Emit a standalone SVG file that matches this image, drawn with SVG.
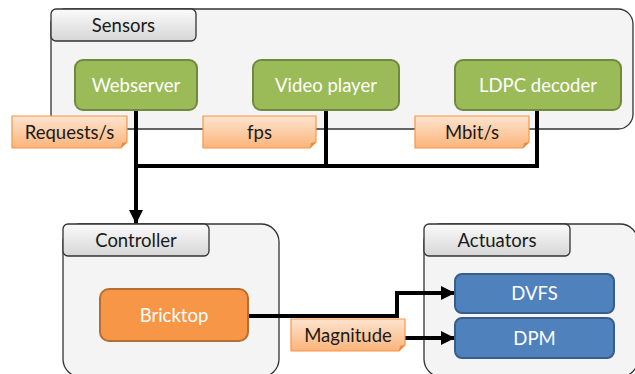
<svg xmlns="http://www.w3.org/2000/svg" width="635" height="374" viewBox="0 0 635 374">
  <defs>
    <linearGradient id="tabGrad" x1="0" y1="0" x2="0" y2="1">
      <stop offset="0" stop-color="#fbfbfb"/>
      <stop offset="1" stop-color="#d6d6d6"/>
    </linearGradient>
    <linearGradient id="lblGrad" x1="0" y1="0" x2="0" y2="1">
      <stop offset="0" stop-color="#fde4cf"/>
      <stop offset="1" stop-color="#fbb47a"/>
    </linearGradient>
    <marker id="arrow" viewBox="0 0 14 14" refX="13" refY="7" markerWidth="14" markerHeight="14" markerUnits="userSpaceOnUse" orient="auto">
      <path d="M0,0 L14,7 L0,14 Z" fill="#000"/>
    </marker>
  </defs>
  <style>
    .container { fill: #f4f4f4; stroke: #333; stroke-width: 1.3; }
    .tab { fill: url(#tabGrad); stroke: #333; stroke-width: 1.3; }
    .green { fill: #9bbb59; stroke: #71893f; stroke-width: 2; }
    .blue { fill: #4f81bd; stroke: #385d8a; stroke-width: 2; }
    .orange { fill: #f79646; stroke: #b66d31; stroke-width: 2; }
    .lbl { fill: url(#lblGrad); stroke: #f79646; stroke-width: 1.2; }
    .fold { fill: #e98a3e; }
    .conn { fill: none; stroke: #000; stroke-width: 4; stroke-linejoin: miter; }
    text { font-family: Lato, "Open Sans", "Liberation Sans", sans-serif; font-size: 18.5px; text-anchor: middle; }
    .dark { fill: #1a1a1a; }
    .white { fill: #ffffff; }
  </style>

  <g id="sensors">
    <rect class="container" x="51" y="9" width="582" height="120" rx="15"/>
    <rect class="tab" x="51" y="9" width="145" height="32" rx="5"/>
    <text class="dark" x="123.5" y="32">Sensors</text>
  </g>
  <g id="controller">
    <rect class="container" x="63" y="224" width="216" height="153" rx="18"/>
    <rect class="tab" x="63" y="224" width="146" height="32" rx="5"/>
    <text class="dark" x="136" y="247">Controller</text>
  </g>
  <g id="actuators">
    <rect class="container" x="424" y="224" width="214" height="153" rx="18"/>
    <rect class="tab" x="424" y="224" width="146" height="32" rx="5"/>
    <text class="dark" x="497" y="247">Actuators</text>
  </g>

  <g id="connectors">
    <path class="conn" d="M136,110 V223" marker-end="url(#arrow)"/>
    <path class="conn" d="M136,166 H537"/>
    <path class="conn" d="M326,110 V166"/>
    <path class="conn" d="M537,110 V168"/>
    <path class="conn" d="M248,316 H397 V293 H454" marker-end="url(#arrow)"/>
    <path class="conn" d="M405,338 H454" marker-end="url(#arrow)"/>
  </g>

  <g id="webserver">
    <rect class="green" x="75" y="60" width="122" height="50" rx="8"/>
    <text class="white" x="136" y="92">Webserver</text>
  </g>
  <g id="videoplayer">
    <rect class="green" x="253" y="60" width="146" height="50" rx="8"/>
    <text class="white" x="326" y="92">Video player</text>
  </g>
  <g id="ldpc">
    <rect class="green" x="455" y="60" width="166" height="50" rx="8"/>
    <text class="white" x="538" y="92">LDPC decoder</text>
  </g>
  <g id="bricktop">
    <rect class="orange" x="100" y="289" width="148" height="52" rx="9"/>
    <text class="white" x="174" y="322">Bricktop</text>
  </g>
  <g id="dvfs">
    <rect class="blue" x="455" y="274" width="159" height="39" rx="7"/>
    <text class="white" x="534.5" y="300">DVFS</text>
  </g>
  <g id="dpm">
    <rect class="blue" x="455" y="318" width="159" height="40" rx="7"/>
    <text class="white" x="534.5" y="345">DPM</text>
  </g>

  <g id="label-requests">
    <path class="lbl" d="M12,116 H127 V142 L121,148 H12 Z"/>
    <path class="fold" d="M127,142 L121,148 L122,143 Z"/>
    <text class="dark" x="69.5" y="139">Requests/s</text>
  </g>
  <g id="label-fps">
    <path class="lbl" d="M203,116 H316 V142 L310,148 H203 Z"/>
    <path class="fold" d="M316,142 L310,148 L311,143 Z"/>
    <text class="dark" x="259.5" y="139">fps</text>
  </g>
  <g id="label-mbit">
    <path class="lbl" d="M415,116 H529 V142 L523,148 H415 Z"/>
    <path class="fold" d="M529,142 L523,148 L524,143 Z"/>
    <text class="dark" x="472" y="139">Mbit/s</text>
  </g>
  <g id="label-magnitude">
    <path class="lbl" d="M291,319 H405 V345 L399,351 H291 Z"/>
    <path class="fold" d="M405,345 L399,351 L400,346 Z"/>
    <text class="dark" x="348" y="342">Magnitude</text>
  </g>
</svg>
